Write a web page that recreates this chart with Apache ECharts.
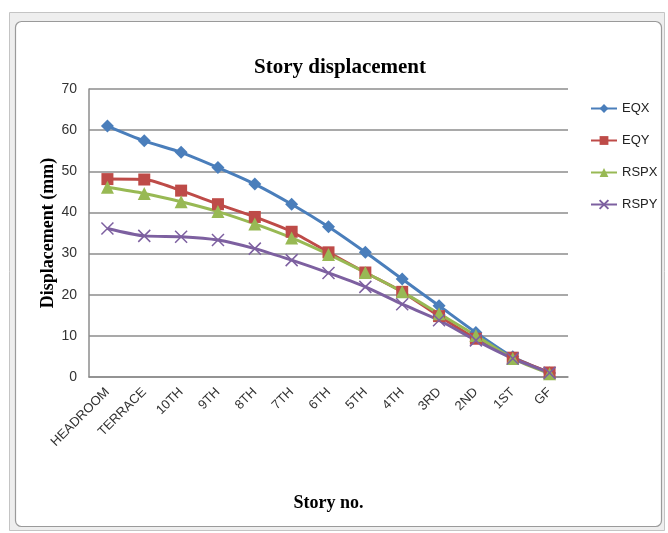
<!DOCTYPE html>
<html>
<head>
<meta charset="utf-8">
<script src="https://cdn.jsdelivr.net/npm/echarts@6/dist/echarts.min.js"></script>
<style>
  html, body { margin: 0; padding: 0; background: #fff; }
  #chart { width: 668px; height: 533px; }
</style>
</head>
<body>
<div id="chart"></div>
<script>
// Story labels, top of the building first
const stories = ['HEADROOM', 'TERRACE', '10TH', '9TH', '8TH', '7TH', '6TH', '5TH', '4TH', '3RD', '2ND', '1ST', 'GF'];

// Displacement per story (mm)
const eqx  = [61.0, 57.4, 54.6, 50.9, 46.9, 42.0, 36.5, 30.3, 23.8, 17.3, 10.8, 4.9, 1.0];
const eqy  = [48.1, 48.0, 45.3, 42.0, 38.9, 35.3, 30.3, 25.4, 20.7, 14.8, 9.3, 4.7, 1.1];
const rspx = [46.1, 44.6, 42.6, 40.2, 37.2, 33.8, 29.8, 25.4, 20.7, 15.4, 10.1, 4.5, 0.8];
const rspy = [36.1, 34.3, 34.1, 33.3, 31.2, 28.4, 25.3, 21.9, 17.7, 13.8, 8.9, 4.5, 1.0];

const yTicks = { min: 0, max: 70, interval: 10 };

const crossPath = 'path://M0,0 L10,10 M10,0 L0,10';

const chart = echarts.init(document.getElementById('chart'), null, { renderer: 'canvas' });

function lineSeries(name, data, color, symbol, size, extra) {
  return Object.assign({
    name: name,
    type: 'line',
    data: data,
    smooth: 0.25,
    symbol: symbol,
    symbolSize: size,
    showAllSymbol: true,
    lineStyle: { color: color, width: 3 },
    itemStyle: { color: color },
    emphasis: { disabled: true }
  }, extra || {});
}

chart.setOption({
  animation: false,
  backgroundColor: '#ffffff',
  graphic: [
    // window frame
    { type: 'rect', shape: { x: 9.5, y: 12.5, width: 655, height: 518 },
      style: { fill: '#eeeeee', stroke: '#c4c4c4', lineWidth: 1 }, z: -10 },
    { type: 'rect', shape: { x: 15.5, y: 21.5, width: 646, height: 505, r: 6 },
      style: { fill: '#ffffff', stroke: '#9a9a9a', lineWidth: 1.2 }, z: -9 }
  ],
  title: {
    text: 'Story displacement',
    left: 335,
    top: 52,
    textAlign: 'center',
    textStyle: { fontFamily: 'Liberation Serif', fontWeight: 'bold', fontSize: 21, color: '#000' }
  },
  legend: {
    orient: 'vertical',
    left: 585,
    top: 97,
    itemWidth: 26,
    itemHeight: 11,
    itemGap: 19,
    textStyle: { fontFamily: 'Liberation Sans Narrow, Liberation Sans', fontSize: 13, color: '#222' },
    data: ['EQX', 'EQY', 'RSPX', 'RSPY']
  },
  grid: { left: 89, right: 100, top: 89, bottom: 156, containLabel: false },
  xAxis: {
    type: 'category',
    data: stories,
    boundaryGap: true,
    name: 'Story no.',
    nameLocation: 'middle',
    nameGap: 117,
    nameTextStyle: { fontFamily: 'Liberation Serif', fontWeight: 'bold', fontSize: 18, color: '#000' },
    axisLine: { lineStyle: { color: '#8c8c8c', width: 1.5 } },
    axisTick: { show: false },
    axisLabel: { rotate: 45, margin: 13, fontFamily: 'Liberation Sans Narrow, Liberation Sans', fontSize: 13, color: '#333' }
  },
  yAxis: {
    type: 'value',
    min: yTicks.min,
    max: yTicks.max,
    interval: yTicks.interval,
    name: 'Displacement (mm)',
    nameLocation: 'middle',
    nameGap: 32,
    nameMoveOverlap: false,
    nameTextStyle: { fontFamily: 'Liberation Serif', fontWeight: 'bold', fontSize: 18, color: '#000' },
    axisLine: { show: true, lineStyle: { color: '#8c8c8c', width: 1.5 } },
    axisTick: { show: false },
    axisLabel: { margin: 12, fontFamily: 'Liberation Sans Narrow, Liberation Sans', fontSize: 14, color: '#333' },
    splitLine: { lineStyle: { color: '#8c8c8c', width: 1.5 } }
  },
  series: [
    lineSeries('EQX', eqx, '#4a7ebb', 'diamond', 13),
    lineSeries('EQY', eqy, '#be4b48', 'rect', 12),
    lineSeries('RSPX', rspx, '#98b954', 'triangle', 13),
    lineSeries('RSPY', rspy, '#7d60a0', crossPath, 12, {
      itemStyle: { color: '#7d60a0', borderColor: '#7d60a0', borderWidth: 1.5 }
    })
  ]
});
</script>
</body>
</html>
